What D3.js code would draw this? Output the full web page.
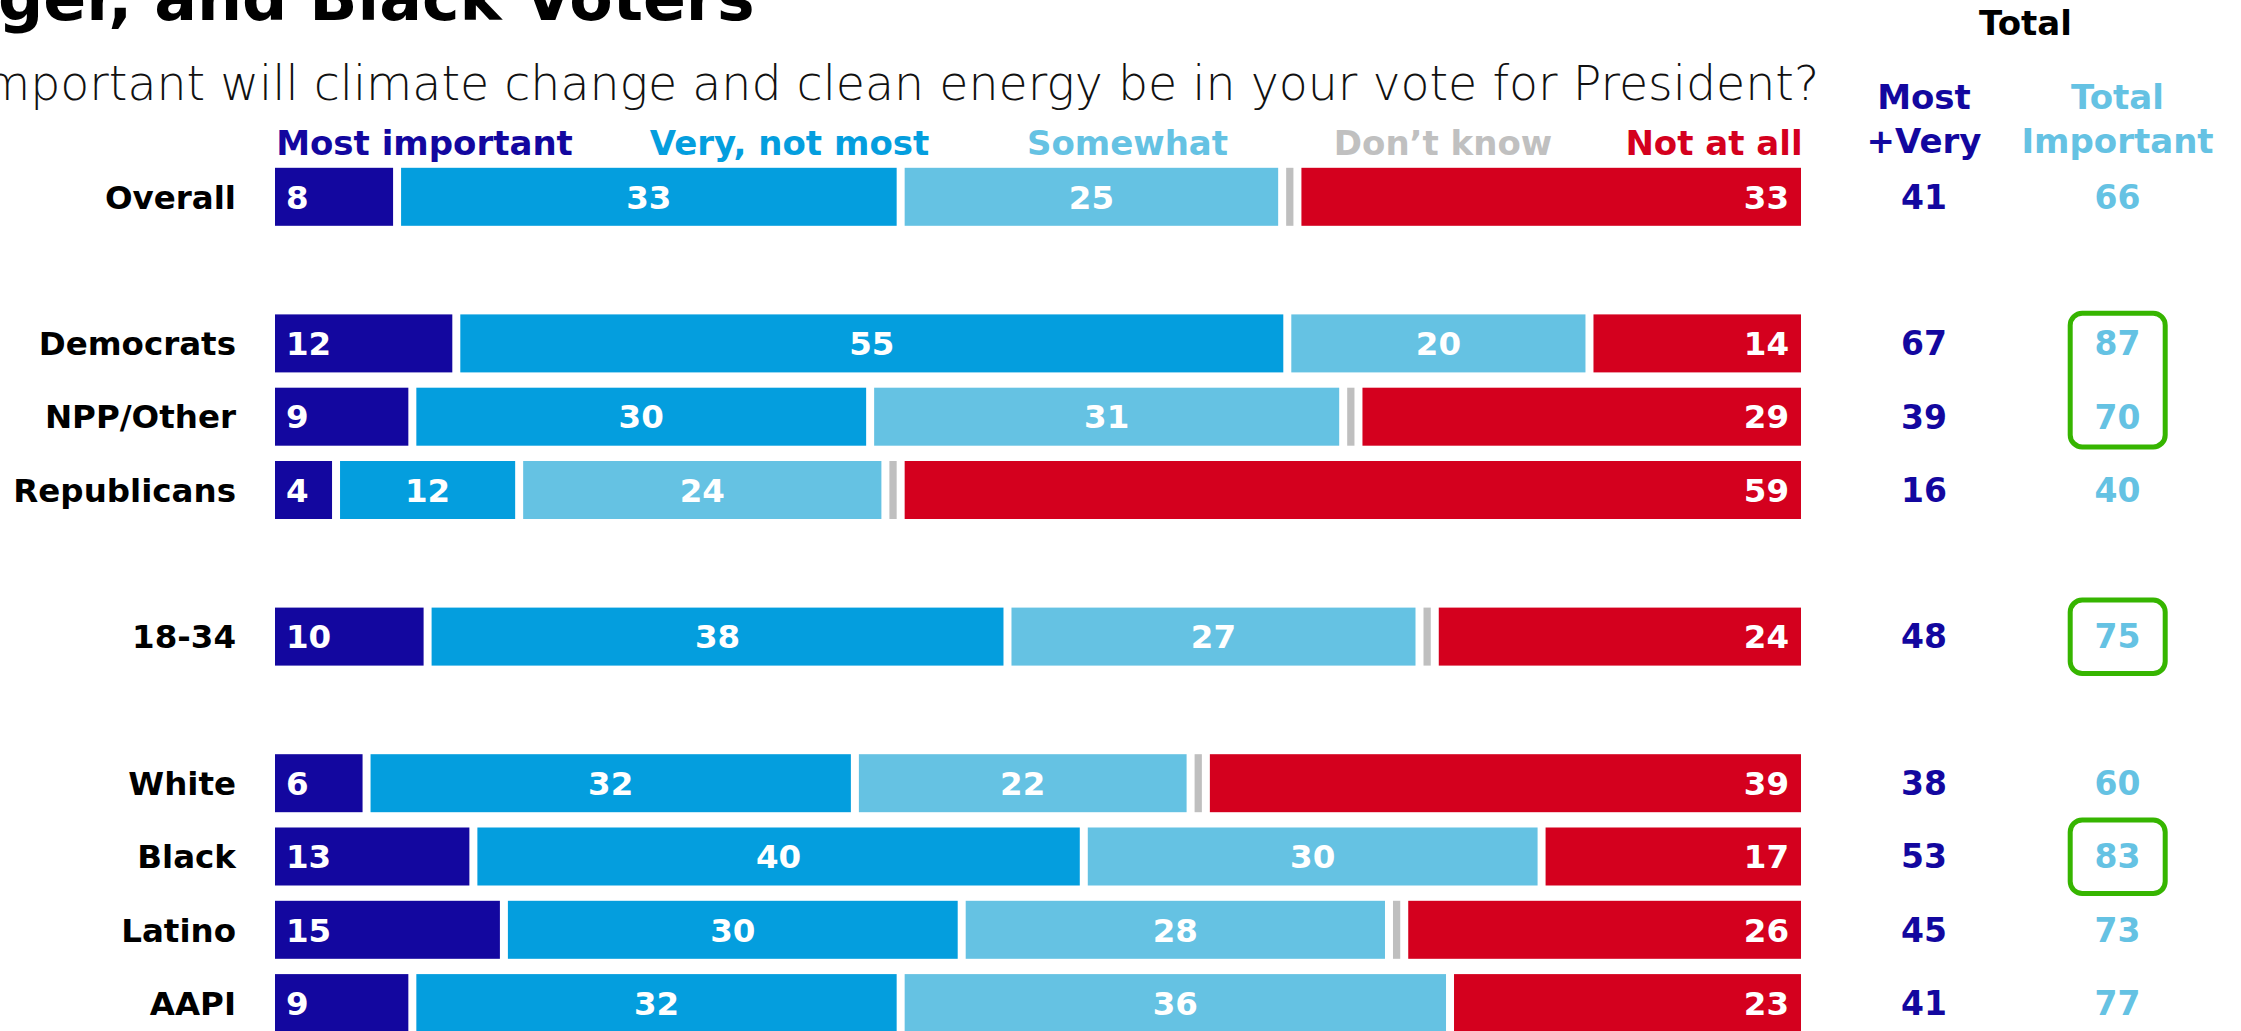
<!DOCTYPE html>
<html>
<head>
<meta charset="utf-8">
<script src="https://cdn.jsdelivr.net/npm/d3@7/dist/d3.min.js"></script>
<style>
  html, body { margin: 0; padding: 0; background: #ffffff; }
  svg { display: block; }
  text { font-family: "DejaVu Sans", "Noto Sans", sans-serif; }
</style>
</head>
<body>
<svg id="chart" width="2241" height="1031"></svg>
<script>
// ---------------- DATA ----------------
const titleText = "ger, and Black Voters";
const subtitleText = "mportant will climate change and clean energy be in your vote for President?";

const groups = [
  ["Overall"],
  ["Democrats", "NPP/Other", "Republicans"],
  ["18-34"],
  ["White", "Black", "Latino", "AAPI"]
];
const categories = ["Overall", "Democrats", "NPP/Other", "Republicans", "18-34", "White", "Black", "Latino", "AAPI"];
const mostImportant  = [8, 12, 9, 4, 10, 6, 13, 15, 9];
const veryNotMost    = [33, 55, 30, 12, 38, 32, 40, 30, 32];
const somewhat       = [25, 20, 31, 24, 27, 22, 30, 28, 36];
const dontKnow       = [1, 0, 1, 1, 1, 1, 0, 1, 0];
const notAtAll       = [33, 14, 29, 59, 24, 39, 17, 26, 23];
const mostPlusVery   = [41, 67, 39, 16, 48, 38, 53, 45, 41];
const totalImportant = [66, 87, 70, 40, 75, 60, 83, 73, 77];

const seriesKeys   = ["most", "very", "somewhat", "dk", "not"];
const seriesLabels = ["Most important", "Very, not most", "Somewhat", "Don\u2019t know", "Not at all"];
const highlighted  = [["Democrats", "NPP/Other"], ["18-34"], ["Black"]];

const colHeaderMV  = ["Most", "+Very"];
const colHeaderTI  = ["Total", "Important"];
const colHeaderTop = "Total";

// ---------------- STYLE / LAYOUT ----------------
const W = 2241, H = 1031;
const colors = {
  most: "#13079F", very: "#049EDE", somewhat: "#65C2E3", dk: "#BFBFBF", not: "#D4001E"
};
const legendColors = ["#13079F", "#049EDE", "#65C2E3", "#C0C0C0", "#D4001E"];
const legendCenters = [424.5, 789.5, 1127.5, 1443, 1714];
const barLeft = 275, barRight = 1801, barH = 58, gap = 8;
const colMV = 1924, colTI = 2117.5;
const green = "#36B500";

const svg = d3.select("#chart");
svg.append("rect").attr("width", W).attr("height", H).attr("fill", "#fff");

// rows with spacer slots between groups
const slots = [];
groups.forEach((g, i) => {
  if (i > 0) slots.push("__spacer" + i);
  g.forEach(c => slots.push(c));
});
const step = 73.3;
const y = d3.scaleBand().domain(slots).range([196.8 - step / 2, 196.8 - step / 2 + step * slots.length]).padding(0);
const yc = c => y(c) + y.bandwidth() / 2;

// ---------------- TITLE / SUBTITLE ----------------
function fitWidth(sel, target) {
  const w = sel.node().getComputedTextLength();
  const fs = parseFloat(sel.attr("font-size"));
  sel.attr("font-size", fs * target / w);
}
const title = svg.append("text")
  .attr("x", -2).attr("y", 20)
  .attr("font-size", 60).attr("font-weight", 700).attr("fill", "#000")
  .text(titleText);
fitWidth(title, 757);

const subtitle = svg.append("text")
  .attr("x", -16).attr("y", 100)
  .attr("font-size", 44).attr("font-weight", 300).attr("fill", "#111")
  .text(subtitleText);
fitWidth(subtitle, 1836);

// ---------------- LEGEND ----------------
svg.append("g").selectAll("text")
  .data(seriesLabels)
  .join("text")
  .attr("x", (d, i) => legendCenters[i])
  .attr("y", 155)
  .attr("text-anchor", "middle")
  .attr("font-size", 34).attr("font-weight", 700)
  .attr("fill", (d, i) => legendColors[i])
  .text(d => d);

// ---------------- BARS ----------------
const rows = categories.map((c, i) => ({
  cat: c,
  most: mostImportant[i], very: veryNotMost[i], somewhat: somewhat[i],
  dk: dontKnow[i], not: notAtAll[i],
  mv: mostPlusVery[i], ti: totalImportant[i]
}));
const stacked = d3.stack().keys(seriesKeys)(rows);

const barG = svg.append("g");
rows.forEach((r, ri) => {
  const total = seriesKeys.reduce((s, k) => s + r[k], 0);
  const x = d3.scaleLinear().domain([0, total]).range([barLeft, barRight]);
  const cy = yc(r.cat);
  const segs = stacked.map(s => ({ key: s.key, v0: s[ri][0], v1: s[ri][1], val: r[s.key] }))
    .filter(s => s.val > 0)
    .map(s => {
      const x0 = s.v0 === 0 ? x(0) : x(s.v0) + gap / 2;
      const x1 = s.v1 >= total ? x(total) : x(s.v1) - gap / 2;
      return Object.assign(s, { x0, x1 });
    });
  const g = barG.append("g");
  g.selectAll("rect").data(segs).join("rect")
    .attr("x", d => d.x0)
    .attr("y", cy - barH / 2)
    .attr("width", d => Math.max(0, d.x1 - d.x0))
    .attr("height", barH)
    .attr("fill", d => colors[d.key]);
  const fs = 32.5;
  g.selectAll("text").data(segs.filter(d => d.key !== "dk")).join("text")
    .attr("x", d => d.key === "most" ? d.x0 + 11 : d.key === "not" ? d.x1 - 12 : (d.x0 + d.x1) / 2)
    .attr("y", cy + fs * 0.36)
    .attr("text-anchor", d => d.key === "most" ? "start" : d.key === "not" ? "end" : "middle")
    .attr("font-size", fs).attr("font-weight", 700).attr("fill", "#fff")
    .text(d => d.val);
});

// ---------------- ROW LABELS ----------------
const rfs = 32.5;
svg.append("g").selectAll("text").data(categories).join("text")
  .attr("x", 236)
  .attr("y", d => yc(d) + rfs * 0.36)
  .attr("text-anchor", "end")
  .attr("font-size", rfs).attr("font-weight", 700).attr("fill", "#000")
  .text(d => d);

// ---------------- RIGHT COLUMNS ----------------
svg.append("text").attr("x", 2025.5).attr("y", 35).attr("text-anchor", "middle")
  .attr("font-size", 34).attr("font-weight", 700).attr("fill", "#000").text(colHeaderTop);
svg.append("g").selectAll("text").data(colHeaderMV).join("text")
  .attr("x", colMV).attr("y", (d, i) => 109 + i * 44).attr("text-anchor", "middle")
  .attr("font-size", 34).attr("font-weight", 700).attr("fill", colors.most).text(d => d);
svg.append("g").selectAll("text").data(colHeaderTI).join("text")
  .attr("x", colTI).attr("y", (d, i) => 109 + i * 44).attr("text-anchor", "middle")
  .attr("font-size", 34).attr("font-weight", 700).attr("fill", colors.somewhat).text(d => d);

const vfs = 33;
svg.append("g").selectAll("text").data(rows).join("text")
  .attr("x", colMV).attr("y", d => yc(d.cat) + vfs * 0.36).attr("text-anchor", "middle")
  .attr("font-size", vfs).attr("font-weight", 700).attr("fill", colors.most).text(d => d.mv);
svg.append("g").selectAll("text").data(rows).join("text")
  .attr("x", colTI).attr("y", d => yc(d.cat) + vfs * 0.36).attr("text-anchor", "middle")
  .attr("font-size", vfs).attr("font-weight", 700).attr("fill", colors.somewhat).text(d => d.ti);

// ---------------- HIGHLIGHT BOXES ----------------
svg.append("g").selectAll("rect").data(highlighted).join("rect")
  .attr("x", 2070.2).attr("width", 95)
  .attr("y", d => yc(d[0]) - (d.length > 1 ? 30.2 : 36.5))
  .attr("height", d => yc(d[d.length - 1]) - yc(d[0]) + (d.length > 1 ? 60.4 : 73.5))
  .attr("rx", 12).attr("ry", 12)
  .attr("fill", "none").attr("stroke", green).attr("stroke-width", 5);
</script>
</body>
</html>
